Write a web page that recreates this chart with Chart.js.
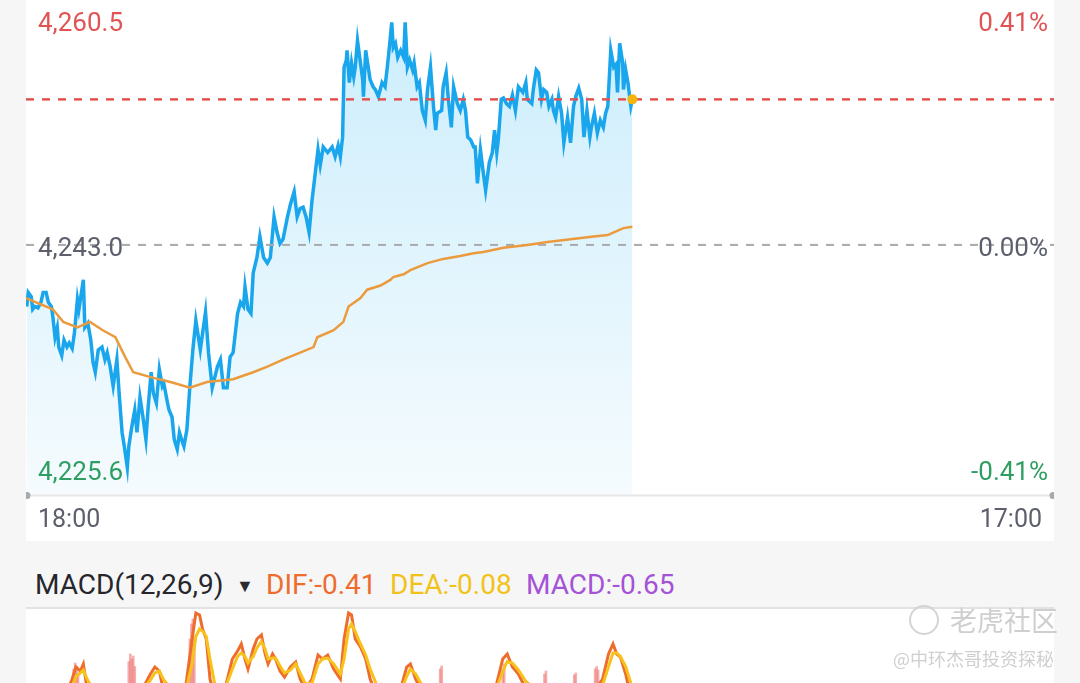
<!DOCTYPE html>
<html>
<head>
<meta charset="utf-8">
<script src="https://cdn.jsdelivr.net/npm/chart.js@4"></script>
<style>
    html, body { margin: 0; padding: 0; }
    body {
        width: 1080px; height: 683px; overflow: hidden; position: relative;
        background: #f6f6f7; font-family: Roboto, "Noto Sans", sans-serif;
    }
    #pricePanel { position: absolute; left: 26px; top: 0; width: 1028px; height: 541px; background: #fff; }
    #macdPanel { position: absolute; left: 26px; top: 609px; width: 1028px; height: 150px; background: #fff; }
    #divider { position: absolute; left: 26px; top: 607px; width: 1028px; height: 2px; background: #e2e2e4; }
    .head { position: absolute; top: 565px; font-size: 28px; line-height: 40px; white-space: nowrap; }
    #wmLogo {
        position: absolute; left: 909px; top: 605px; width: 26px; height: 26px;
        border: 2px solid #d4d4d4; border-radius: 50%;
    }
    .wm { position: absolute; white-space: nowrap; color: #cfcfcf; font-family: "Noto Sans CJK SC", sans-serif; }
</style>
</head>
<body>
<div id="pricePanel"><canvas id="priceChart" width="1028" height="541"></canvas></div>
<div id="divider"></div>
<div id="macdPanel"><canvas id="macdChart" width="1028" height="150"></canvas></div>

<span class="head" id="hName" style="left:35px;color:#26262c"></span>
<span class="head" style="left:236px;top:566px;font-size:18px;color:#2a2a30">&#9660;</span>
<span class="head" id="hDif" style="left:266px;color:#ef6d2c"></span>
<span class="head" id="hDea" style="left:390px;color:#f1c318"></span>
<span class="head" id="hMacd" style="left:526px;color:#a452d6"></span>

<div id="wmLogo"></div>
<span class="wm" style="left:950px;top:600px;font-size:27px;">老虎社区</span>
<span class="wm" style="left:893px;top:645px;font-size:18px;">@中环杰哥投资探秘</span>

<script>
    // ---- Datos del intradía (minutos desde las 18:00) ----
    var sessionMinutes = 1380; // 18:00 -> 17:00
    var timeLabels = ['18:00', '17:00'];

    var priceTimes = [1, 3, 7, 9, 12, 16, 20, 23, 27, 30, 34, 36, 39, 42, 44, 48, 51, 55, 58, 62,
        65, 69, 71, 77, 79, 83, 87, 90, 93, 97, 102, 106, 109, 113, 117, 122, 125, 129, 132, 136,
        138, 142, 146, 149, 153, 157, 161, 164, 168, 171, 175, 179, 183, 185, 190, 192, 196, 199, 203, 206,
        210, 212, 216, 220, 224, 228, 234, 241, 245, 250, 257, 261, 265, 270, 274, 278, 284, 288, 292, 294,
        298, 302, 305, 310, 314, 319, 324, 328, 333, 337, 341, 345, 351, 355, 360, 364, 368, 372, 376, 380,
        384, 388, 392, 395, 399, 405, 411, 415, 419, 422, 425, 427, 430, 431, 434, 437, 440, 442, 445, 448,
        452, 453, 456, 458, 462, 466, 469, 473, 478, 482, 485, 487, 491, 493, 496, 499, 503, 507, 509, 512,
        515, 519, 521, 525, 528, 532, 536, 539, 543, 547, 550, 552, 558, 560, 564, 567, 571, 574, 579, 583,
        587, 590, 593, 597, 601, 603, 606, 610, 614, 617, 620, 622, 626, 629, 632, 634, 638, 641, 645, 649,
        653, 657, 661, 667, 671, 673, 679, 681, 685, 688, 692, 695, 699, 702, 706, 708, 711, 715, 719, 722,
        727, 731, 735, 738, 742, 746, 749, 753, 757, 759, 763, 767, 771, 775, 778, 781, 785, 789, 792, 794,
        797, 801, 802, 805, 808, 812, 814];

    var prices = [4238.6, 4239.6, 4239.3, 4238.4, 4238.6, 4238.5, 4238.9, 4239.6, 4239.6, 4238.9,
        4238.6, 4237.9, 4236.4, 4237.1, 4235.7, 4235.1, 4236.2, 4235.7, 4236.0, 4235.6,
        4236.7, 4239.1, 4238.4, 4240.5, 4237.1, 4237.4, 4236.2, 4234.6, 4233.9, 4235.5,
        4235.7, 4234.8, 4235.3, 4234.3, 4232.9, 4234.8, 4232.4, 4229.6, 4228.6, 4227.1,
        4228.6, 4230.0, 4231.2, 4229.6, 4232.1, 4230.7, 4229.1, 4231.4, 4233.9, 4232.4,
        4231.7, 4234.1, 4232.9, 4233.1, 4231.7, 4231.2, 4230.7, 4229.1, 4228.4, 4229.6,
        4228.9, 4228.6, 4229.8, 4232.9, 4235.5, 4237.6, 4235.5, 4238.2, 4235.3, 4232.8,
        4234.3, 4234.8, 4232.8, 4232.8, 4235.0, 4235.3, 4238.1, 4238.9, 4238.6, 4240.0,
        4238.4, 4238.1, 4241.0, 4242.1, 4243.6, 4242.1, 4241.7, 4242.1, 4245.0, 4243.9,
        4243.1, 4243.4, 4245.0, 4245.9, 4246.8, 4245.0, 4245.6, 4245.7, 4245.0, 4243.9,
        4246.2, 4248.0, 4249.8, 4248.7, 4250.0, 4249.6, 4250.0, 4249.3, 4250.1, 4249.3,
        4250.7, 4255.7, 4256.2, 4256.9, 4254.6, 4256.0, 4255.0, 4255.7, 4257.6, 4256.4,
        4254.8, 4253.6, 4256.9, 4256.2, 4254.8, 4254.3, 4254.1, 4253.6, 4254.6, 4254.3,
        4255.7, 4256.7, 4258.9, 4257.1, 4257.4, 4256.4, 4256.9, 4256.4, 4258.9, 4255.7,
        4256.2, 4255.5, 4256.0, 4254.3, 4254.6, 4252.6, 4251.9, 4254.1, 4255.7, 4252.9,
        4251.2, 4252.4, 4252.6, 4254.3, 4255.3, 4253.4, 4251.4, 4254.3, 4253.1, 4252.6,
        4253.4, 4252.6, 4250.7, 4250.5, 4250.0, 4250.0, 4247.4, 4249.8, 4248.1, 4246.9,
        4248.1, 4248.9, 4249.6, 4251.2, 4249.6, 4250.5, 4253.4, 4253.5, 4253.1, 4252.9,
        4253.7, 4252.6, 4254.3, 4253.9, 4254.6, 4253.4, 4253.1, 4254.1, 4255.5, 4255.3,
        4253.4, 4254.1, 4253.9, 4252.9, 4253.4, 4252.6, 4252.1, 4253.6, 4252.4, 4250.3,
        4252.1, 4250.3, 4252.9, 4253.6, 4254.2, 4253.4, 4250.7, 4252.6, 4250.7, 4251.4,
        4252.4, 4251.0, 4251.9, 4251.4, 4252.4, 4252.9, 4256.9, 4255.7, 4255.9, 4253.9,
        4257.4, 4256.0, 4254.1, 4255.5, 4254.6, 4252.9, 4253.4];

    // Precio medio (línea naranja)
    var avgTimes = [0, 36, 50, 69, 86, 103, 120, 133, 144, 171, 194, 220, 243, 278, 305, 324, 345, 368, 386, 391,
        413, 426, 433, 449, 458, 476, 489, 493, 507, 516, 539, 560, 583, 601, 614, 641, 673, 700, 731, 762,
        781, 789, 802, 814];
    var avgPrices = [4239.2, 4238.4, 4237.5, 4237.1, 4237.5, 4236.9, 4236.4, 4235.0, 4233.9, 4233.5,
        4233.2, 4232.8, 4233.2, 4233.4, 4233.9, 4234.3, 4234.8, 4235.3, 4235.7, 4236.4,
        4236.9, 4237.5, 4238.6, 4239.2, 4239.8, 4240.1, 4240.5, 4240.7, 4240.9, 4241.2,
        4241.7, 4242.0, 4242.2, 4242.4, 4242.5, 4242.8, 4243.0, 4243.2, 4243.4, 4243.6,
        4243.7, 4243.9, 4244.2, 4244.3];

    var prevClose = 4243.0;
    var lastPrice = 4253.4;
    var scaleTop = 4260.5;
    var scaleBottom = 4225.2;
    var priceLabelValues = [4260.5, 4243.0, 4225.6];
    var priceLabels = ['4,260.5', '4,243.0', '4,225.6'];
    var pctLabels = ['0.41%', '0.00%', '-0.41%'];

    // ---- MACD ----
    var macdTimes = [0, 46, 62, 67, 73, 77, 82, 99, 126, 146, 160, 167, 173, 179, 184, 200, 214, 223, 228, 233,
        237, 242, 247, 254, 267, 277, 284, 289, 294, 298, 305, 310, 316, 321, 325, 331, 335, 341, 347, 355,
        362, 368, 375, 384, 392, 398, 405, 413, 422, 427, 433, 437, 442, 449, 456, 462, 473, 489, 503, 511,
        516, 523, 536, 556, 583, 610, 630, 640, 646, 653, 661, 671, 691, 718, 745, 765, 774, 782, 788, 793,
        798, 805, 814];
    var difValues = [-0.70, -0.50, 0.10, 0.34, 0.26, 0.40, -0.10, -0.50, -0.40, -0.20,
        0.00, 0.20, 0.34, 0.26, -0.10, -0.30, -0.10, 0.90, 1.42, 1.38,
        1.10, 0.90, 0.10, -0.30, -0.10, 0.50, 0.66, 0.80, 0.50, 0.30,
        0.70, 0.90, 0.98, 0.60, 0.40, 0.60, 0.50, 0.26, 0.14, 0.34,
        0.44, 0.10, -0.10, 0.10, 0.58, 0.50, 0.58, 0.30, 0.10, 0.90,
        1.42, 1.38, 0.90, 0.74, 0.50, 0.10, -0.30, -0.30, -0.10, 0.34,
        0.40, 0.10, -0.30, -0.20, -0.40, -0.30, -0.10, 0.50, 0.60, 0.34,
        0.20, -0.10, -0.30, -0.30, -0.20, -0.10, 0.10, 0.60, 0.80, 0.60,
        0.54, 0.20, -0.41];
    var deaValues = [-0.60, -0.45, -0.05, 0.15, 0.22, 0.28, 0.10, -0.35, -0.35, -0.18,
        -0.05, 0.08, 0.22, 0.26, 0.10, -0.20, -0.15, 0.40, 0.95, 1.10,
        1.06, 0.95, 0.50, -0.05, -0.10, 0.30, 0.55, 0.62, 0.55, 0.42,
        0.55, 0.72, 0.85, 0.70, 0.50, 0.52, 0.52, 0.36, 0.22, 0.28,
        0.40, 0.22, 0.00, 0.02, 0.40, 0.50, 0.52, 0.40, 0.20, 0.50,
        1.10, 1.20, 1.05, 0.80, 0.58, 0.30, -0.10, -0.25, -0.15, 0.15,
        0.30, 0.20, -0.15, -0.18, -0.30, -0.28, -0.15, 0.25, 0.45, 0.42,
        0.28, 0.05, -0.20, -0.25, -0.20, -0.12, -0.02, 0.35, 0.62, 0.62,
        0.55, 0.35, -0.08];
    var histTimes = [64, 66, 68, 70, 138, 140, 142, 144, 146, 220, 222, 224, 226, 556, 558, 640, 642, 696, 698,
        736, 738, 764, 766, 768, 814];
    var histValues = [0.30, 0.42, 0.35, 0.20, 0.45, 0.60, 0.50, 0.56, 0.35, 0.90, 1.20, 1.30, 0.80, 0.30, 0.36,
        0.30, 0.40, 0.20, 0.26, 0.18, 0.22, 0.30, 0.35, 0.28, -0.65];
    var macdParams = '(12,26,9)';
    var lastDif = -0.41, lastDea = -0.08, lastMacd = -0.65;

    function toPoints(xs, ys) {
        return xs.map(function (x, i) { return { x: x, y: ys[i] }; });
    }

    Chart.defaults.font.family = 'Roboto';

    // Cabecera del MACD
    document.getElementById('hName').textContent = 'MACD' + macdParams;
    document.getElementById('hDif').textContent = 'DIF:' + lastDif.toFixed(2);
    document.getElementById('hDea').textContent = 'DEA:' + lastDea.toFixed(2);
    document.getElementById('hMacd').textContent = 'MACD:' + lastMacd.toFixed(2);

    // Etiquetas laterales, eje de tiempo y línea base
    var sideLabels = {
        id: 'sideLabels',
        afterDraw: function (chart) {
            var c = chart.ctx;
            var area = chart.chartArea;
            var y = chart.scales.y;
            var colors = ['#e05454', '#5d606c', '#2f9e63'];
            var offsets = [24, 5, -15];
            c.save();
            c.font = '26px Roboto';
            c.textBaseline = 'middle';
            priceLabelValues.forEach(function (v, i) {
                var py = y.getPixelForValue(v) + offsets[i];
                c.fillStyle = colors[i];
                c.textAlign = 'left';
                c.fillText(priceLabels[i], 12, py);
                c.textAlign = 'right';
                c.fillText(pctLabels[i], area.right - 6, py);
            });

            // línea del eje
            var by = area.bottom + 1.5;
            c.strokeStyle = '#e6e6e8';
            c.lineWidth = 2;
            c.beginPath();
            c.moveTo(area.left, by);
            c.lineTo(area.right, by);
            c.stroke();
            c.fillStyle = '#a9a9ad';
            [area.left + 1, area.right - 1].forEach(function (px) {
                c.beginPath();
                c.arc(px, by, 3.5, 0, Math.PI * 2);
                c.fill();
            });

            c.font = '25px Roboto';
            c.fillStyle = '#5d606c';
            c.textAlign = 'left';
            c.fillText(timeLabels[0], 12, 521);
            c.textAlign = 'right';
            c.fillText(timeLabels[1], area.right - 12, 521);
            c.restore();
        }
    };

    new Chart(document.getElementById('priceChart'), {
        type: 'line',
        data: {
            datasets: [
                {
                    label: 'Precio',
                    data: toPoints(priceTimes, prices),
                    borderColor: '#19a6ec',
                    borderWidth: 3.5,
                    pointRadius: 0,
                    fill: 'start',
                    backgroundColor: function (ctx) {
                        var area = ctx.chart.chartArea;
                        if (!area) return 'rgba(0,0,0,0)';
                        var g = ctx.chart.ctx.createLinearGradient(0, area.top, 0, area.bottom);
                        g.addColorStop(0, '#cbedfc');
                        g.addColorStop(1, '#f5fbfe');
                        return g;
                    },
                    order: 5
                },
                {
                    label: 'Cierre anterior',
                    data: [{ x: 0, y: prevClose }, { x: sessionMinutes, y: prevClose }],
                    borderColor: '#a9a9ad',
                    borderWidth: 2,
                    borderDash: [8, 8],
                    pointRadius: 0,
                    fill: false,
                    order: 4
                },
                {
                    label: 'Media',
                    data: toPoints(avgTimes, avgPrices),
                    borderColor: '#eb9b3d',
                    borderWidth: 2.5,
                    pointRadius: 0,
                    fill: false,
                    order: 3
                },
                {
                    label: 'Último',
                    data: [{ x: 0, y: lastPrice }, { x: sessionMinutes, y: lastPrice }],
                    borderColor: '#e05454',
                    borderWidth: 2.5,
                    borderDash: [8, 8],
                    pointRadius: 0,
                    fill: false,
                    order: 2
                },
                {
                    label: 'Punto',
                    data: [{ x: priceTimes[priceTimes.length - 1], y: lastPrice }],
                    showLine: false,
                    pointRadius: 5,
                    pointBackgroundColor: '#f5b50c',
                    pointBorderWidth: 0,
                    order: 1
                }
            ]
        },
        options: {
            responsive: false,
            animation: false,
            devicePixelRatio: 1,
            layout: { autoPadding: false, padding: { left: 0, right: 0, top: 0, bottom: 47 } },
            plugins: { legend: { display: false }, tooltip: { enabled: false } },
            scales: {
                x: { type: 'linear', min: 0, max: sessionMinutes, display: false },
                y: { min: scaleBottom, max: scaleTop, display: false }
            }
        },
        plugins: [sideLabels]
    });

    new Chart(document.getElementById('macdChart'), {
        type: 'line',
        data: {
            datasets: [
                {
                    type: 'bar',
                    label: 'MACD',
                    data: toPoints(histTimes, histValues),
                    backgroundColor: histValues.map(function (v) {
                        return v >= 0 ? 'rgba(238,120,120,0.6)' : 'rgba(60,170,110,0.6)';
                    }),
                    barThickness: 2,
                    order: 3
                },
                {
                    label: 'DIF',
                    data: toPoints(macdTimes, difValues),
                    borderColor: '#ef6d2c',
                    borderWidth: 3,
                    pointRadius: 0,
                    fill: false,
                    order: 2
                },
                {
                    label: 'DEA',
                    data: toPoints(macdTimes, deaValues),
                    borderColor: '#f7c21b',
                    borderWidth: 3,
                    pointRadius: 0,
                    fill: false,
                    order: 1
                }
            ]
        },
        options: {
            responsive: false,
            animation: false,
            devicePixelRatio: 1,
            layout: { autoPadding: false, padding: 0 },
            plugins: { legend: { display: false }, tooltip: { enabled: false } },
            scales: {
                x: { type: 'linear', min: 0, max: sessionMinutes, offset: false, display: false },
                y: { min: -1.5, max: 1.5, display: false }
            }
        }
    });
</script>
</body>
</html>
